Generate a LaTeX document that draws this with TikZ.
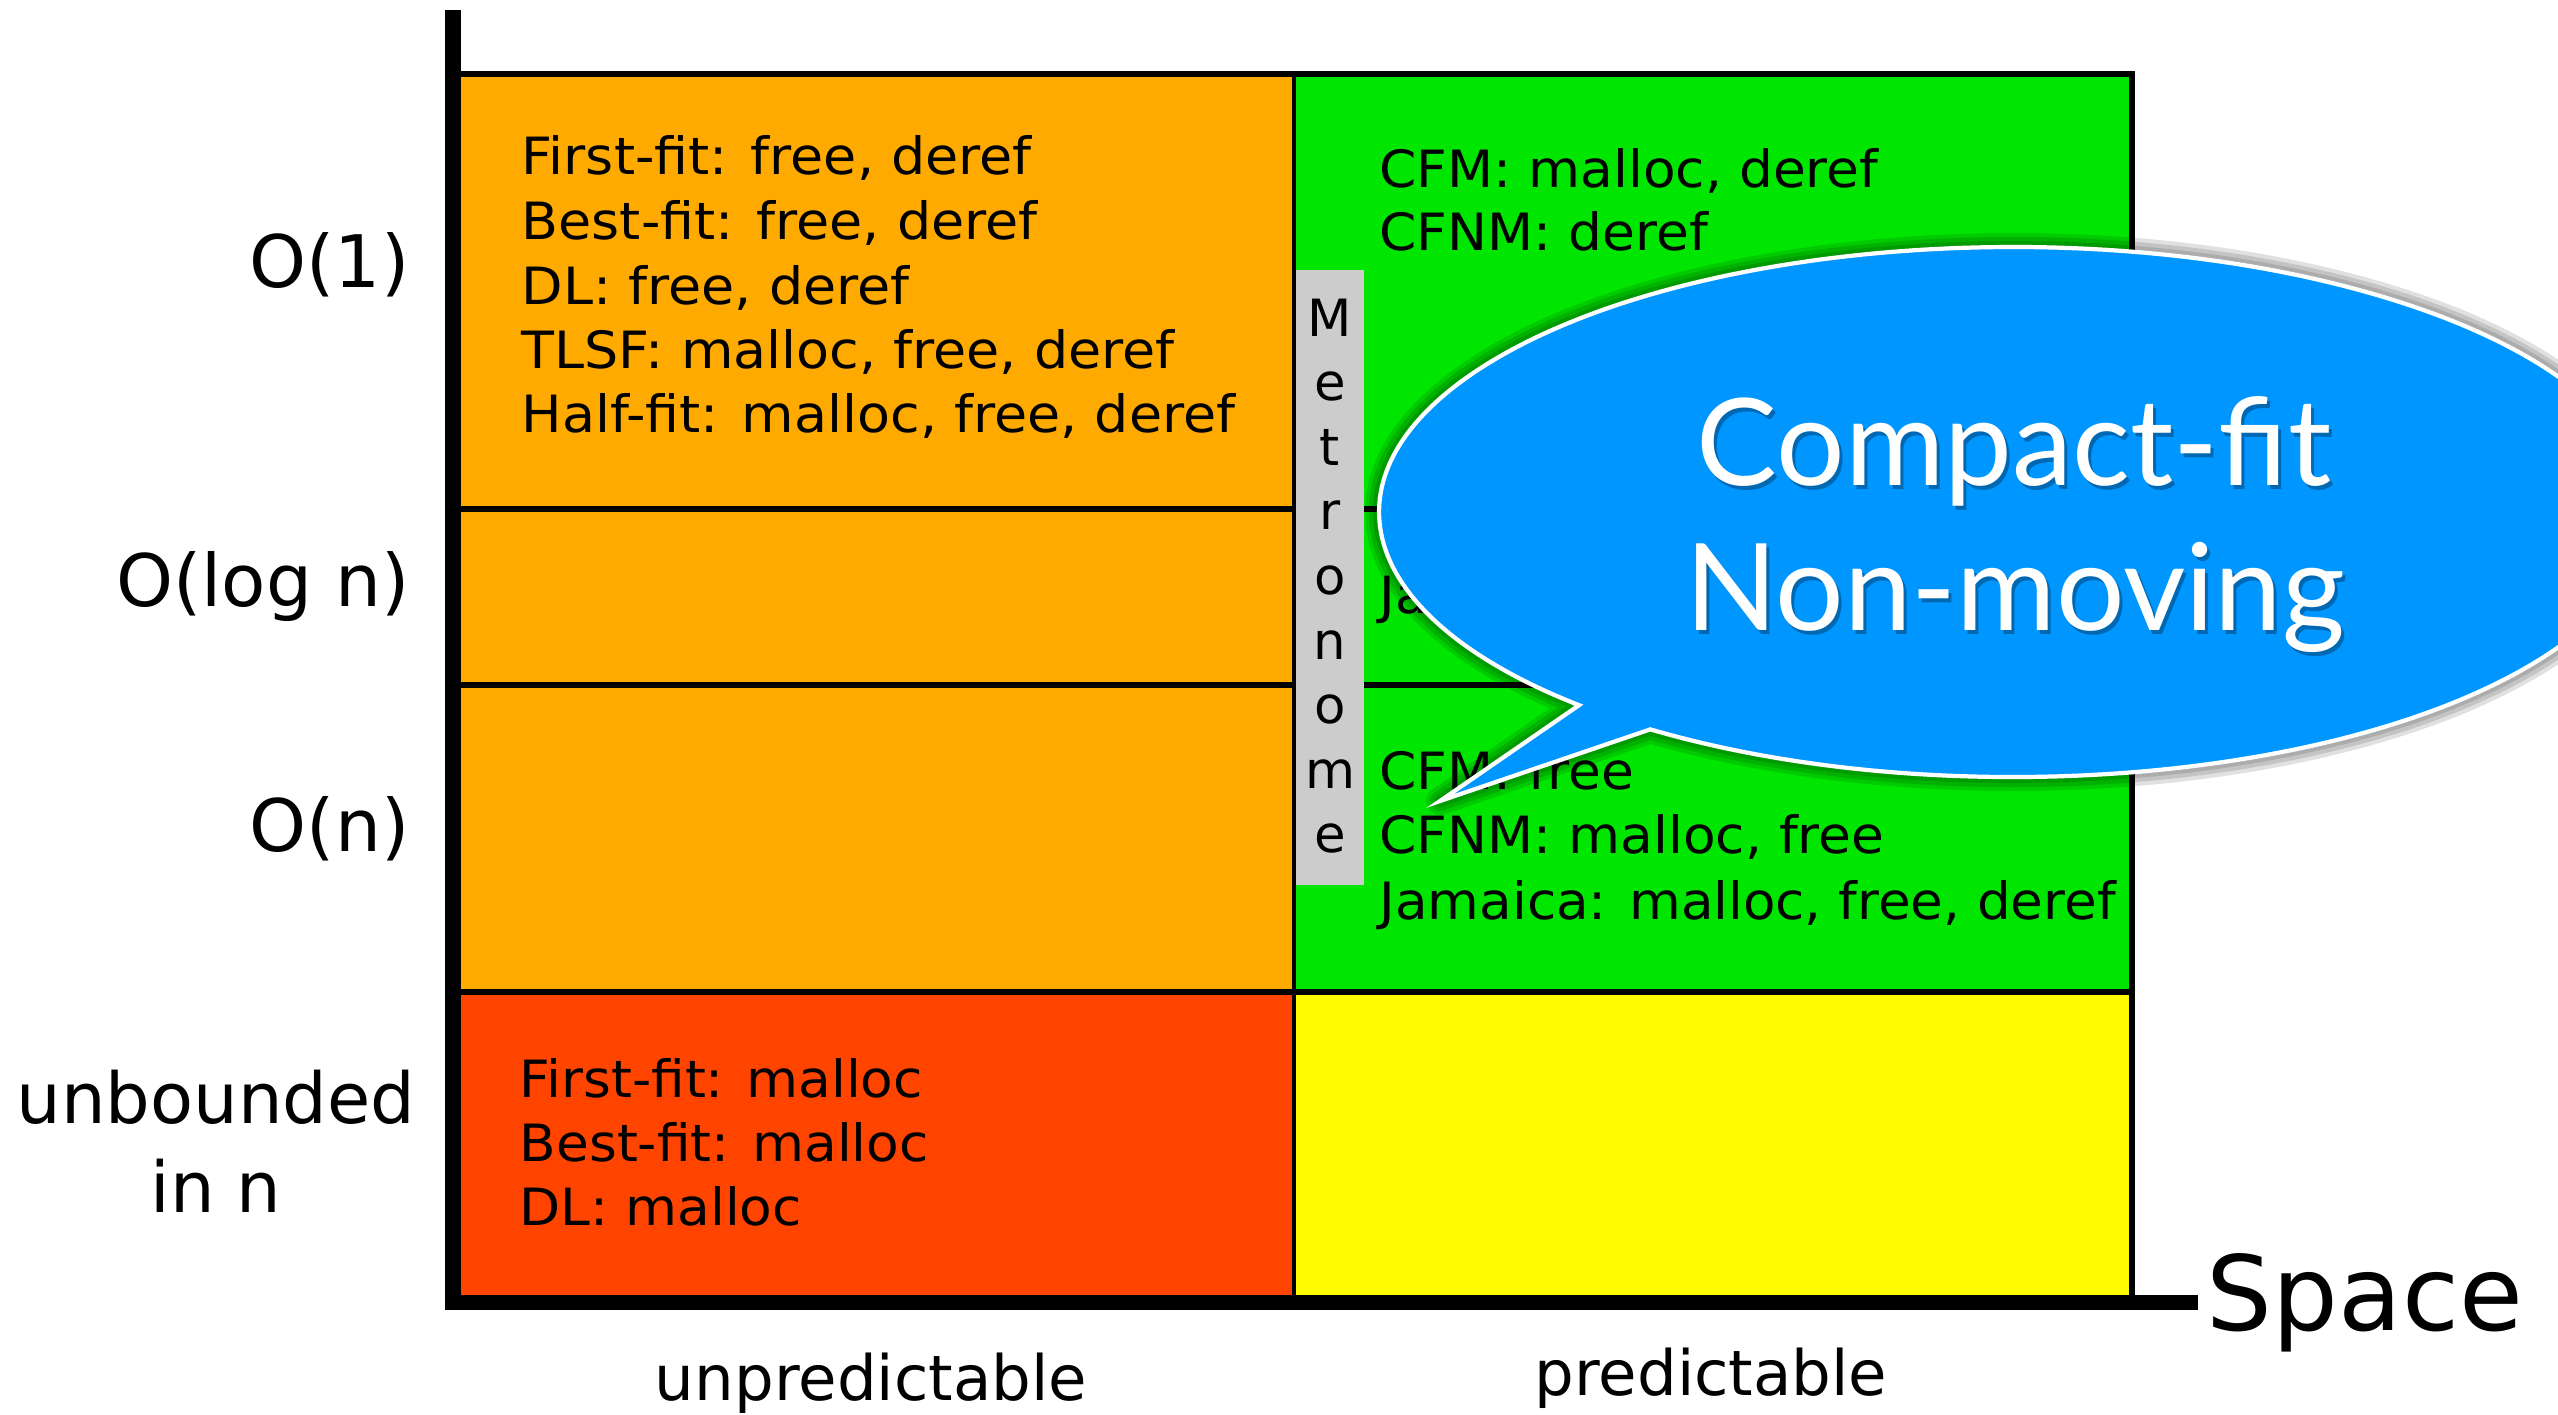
\documentclass[tikz,border=0pt]{standalone}
\usepackage{fontspec}
\usepackage{graphicx}
\setmainfont{DejaVu Sans}
\newfontfamily\bubblefont{Lato}

\definecolor{cellorange}{HTML}{FFAA00}
\definecolor{cellred}{HTML}{FF4400}
\definecolor{cellgreen}{HTML}{00E600}
\definecolor{cellyellow}{HTML}{FFFB00}
\definecolor{metrogrey}{HTML}{CCCCCC}
\definecolor{bubbleblue}{HTML}{0096FF}

% horizontally widened text
\newcommand\hstretch[2]{\scalebox{#1}[1]{#2}}

\tikzset{
  gridline/.style={line width=1.7pt, black},
  axisline/.style={line width=4.5pt, black},
  celltext/.style={anchor=base west, inner sep=0pt, font=\fontsize{14.6}{17}\selectfont},
  metroletter/.style={anchor=base, inner sep=0pt, font=\fontsize{14.6}{17}\selectfont},
  ticklabel/.style={anchor=base east, inner sep=0pt, font=\fontsize{20.6}{25}\selectfont},
  axislabel/.style={anchor=base, inner sep=0pt, font=\fontsize{17.8}{21}\selectfont},
  bubbletext/.style={anchor=base, inner sep=0pt, text=white, font=\bubblefont\fontsize{34.4}{42}\selectfont},
  bubbleshade/.style={anchor=base, inner sep=0pt, text=black, text opacity=0.3, font=\bubblefont\fontsize{34.4}{42}\selectfont},
}

\begin{document}
\begin{tikzpicture}[x=0.01cm, y=-0.01cm]
\useasboundingbox (0,0) rectangle (2558,1414);
\fill[white] (0,0) rectangle (2558,1414);

% cell areas
\fill[cellorange] (461,74) rectangle (1294,992);
\fill[cellgreen] (1294,74) rectangle (2132,992);
\fill[cellred] (461,992) rectangle (1294,1295);
\fill[cellyellow] (1294,992) rectangle (2132,1295);

% grid lines
\draw[gridline] (453,74) -- (2132,74) -- (2132,1295);
\draw[gridline] (461,509) -- (2132,509);
\draw[gridline] (461,685) -- (2132,685);
\draw[gridline] (461,992) -- (2132,992);
\draw[gridline, line width=1.3pt] (1294,74) -- (1294,1295);

% axes
\draw[axisline] (453,10) -- (453,1302.5) -- (2198,1302.5);

% Metronome strip
\fill[metrogrey] (1296,270) rectangle (1364,885);
\foreach \ch [count=\i from 0] in {M,e,t,r,o,n,o,m,e}
  \node[metroletter] (metro\i) at (1330, 336+64.6*\i) {\ch};

% cell contents, unpredictable column
\node[celltext] (ff1) at (521,174) {\hstretch{1.05}{First-fit: free, deref}};
\node[celltext] (bf1) at (521,239) {\hstretch{1.05}{Best-fit: free, deref}};
\node[celltext] (dl1) at (521,304) {\hstretch{1.05}{DL: free, deref}};
\node[celltext] (tlsf1) at (521,368) {\hstretch{1.05}{TLSF: malloc, free, deref}};
\node[celltext] (hf1) at (521,432) {\hstretch{1.05}{Half-fit: malloc, free, deref}};

\node[celltext] (ffu) at (519,1097) {\hstretch{1.04}{First-fit: malloc}};
\node[celltext] (bfu) at (519,1161) {\hstretch{1.04}{Best-fit: malloc}};
\node[celltext] (dlu) at (519,1225) {\hstretch{1.04}{DL: malloc}};

% cell contents, predictable column
\node[celltext] (cfm1) at (1379,187) {\hstretch{1.04}{CFM: malloc, deref}};
\node[celltext] (cfnm1) at (1379,250) {\hstretch{1.04}{CFNM: deref}};
\node[celltext] (jalog) at (1379,613) {\hstretch{1.04}{Ja}};
\node[celltext] (cfmn) at (1379,789) {\hstretch{1.04}{CFM: free}};
\node[celltext] (cfnmn) at (1379,853) {\hstretch{1.04}{CFNM: malloc, free}};
\node[celltext] (jan) at (1379,919) {\hstretch{1.035}{Jamaica: malloc, free, deref}};

% time axis labels
\node[ticklabel] (t1) at (410,287) {O(1)};
\node[ticklabel] (tlog) at (410,606) {O(log n)};
\node[ticklabel] (tn) at (410,851) {O(n)};
\node[anchor=base, inner sep=0pt, font=\fontsize{20}{24}\selectfont] (tub1) at (216,1123) {unbounded};
\node[anchor=base, inner sep=0pt, font=\fontsize{20}{24}\selectfont] (tub2) at (216,1212) {in n};

% space axis labels
\node[axislabel] (unpred) at (871,1400) {unpredictable};
\node[axislabel] (pred) at (1711,1395) {predictable};
\node[anchor=base west, inner sep=0pt, font=\fontsize{29.5}{34}\selectfont] (space) at (2206,1330) {Space};

% speech bubble
\coordinate (bc) at (2013,512);
\path (bc) ++(133.2:634 and 265) coordinate (ta);
\path (bc) ++(124.9:634 and 265) coordinate (tb);
\coordinate (tip) at (1440,801);
\newcommand\bubblepath{(ta) -- (tip) -- (tb) arc[start angle=124.9, end angle=-226.8, x radius=634, y radius=265] -- cycle}

% soft shadow
\begin{scope}[shift={(9,15)}]
  \fill[black, opacity=0.12] \bubblepath;
  \foreach \w in {4,12,20,28}
    \draw[black, opacity=0.12, line width=\w*0.2845pt, line join=round] \bubblepath;
\end{scope}

\fill[bubbleblue] \bubblepath;
\draw[white, line width=1.2pt, line join=miter] \bubblepath;

\node[bubbleshade] (cfshade) at (2017,489) {Compact-fit};
\node[bubbleshade] (nmshade) at (2018,634) {Non-moving};
\node[bubbletext] (cf) at (2014,485) {Compact-fit};
\node[bubbletext] (nm) at (2015,630) {Non-moving};
\end{tikzpicture}
\end{document}
